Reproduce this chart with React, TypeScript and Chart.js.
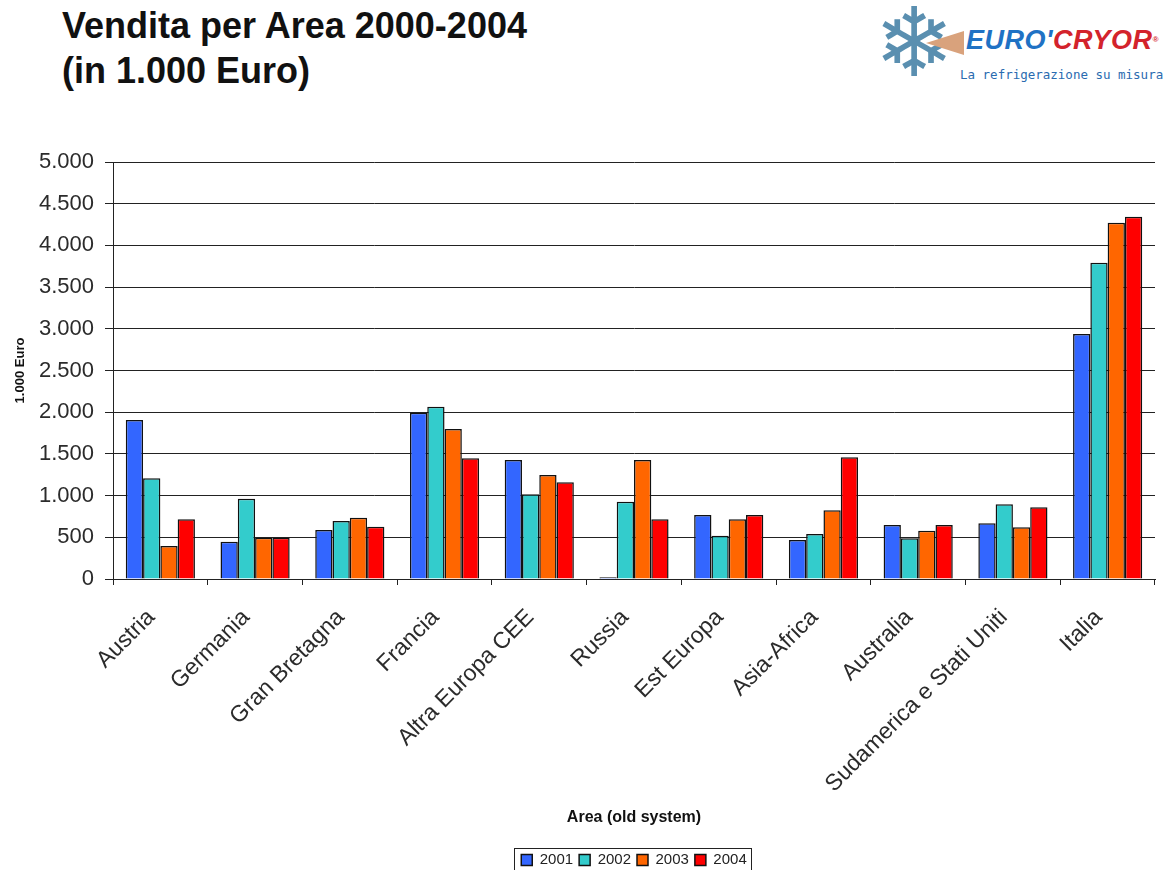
import React, { useEffect, useRef } from "react";
import { Chart, registerables } from "chart.js";

Chart.register(...registerables);

const categories = [
  "Austria",
  "Germania",
  "Gran Bretagna",
  "Francia",
  "Altra Europa CEE",
  "Russia",
  "Est Europa",
  "Asia-Africa",
  "Australia",
  "Sudamerica e Stati Uniti",
  "Italia",
];
const years = ["2001", "2002", "2003", "2004"];
const sales2001 = [1905, 447, 588, 1994, 1427, 20, 767, 468, 647, 668, 2938];
const sales2002 = [1207, 963, 695, 2066, 1015, 927, 519, 540, 488, 896, 3793];
const sales2003 = [396, 495, 735, 1799, 1247, 1427, 716, 824, 579, 620, 4272];
const sales2004 = [716, 495, 627, 1447, 1159, 716, 767, 1459, 647, 860, 4344];
const yMin = 0;
const yMax = 5000;
const yStep = 500;

const seriesColors = ["#3366FF", "#33CCCC", "#FF6600", "#FF0000"];
const FONT = "'Liberation Sans', Arial, Helvetica, sans-serif";

const fmt = (v: number) => String(Math.round(v)).replace(/\B(?=(\d{3})+(?!\d))/g, ".");

const legendBorder = {
  id: "legendBorder",
  afterDraw(chart: any) {
    const lg = chart.legend;
    if (!lg || !lg.legendHitBoxes || !lg.legendHitBoxes.length) return;
    const hb = lg.legendHitBoxes;
    const left = Math.min(...hb.map((h: any) => h.left)) - 7;
    const right = Math.max(...hb.map((h: any) => h.left + h.width)) + 5;
    const top = Math.min(...hb.map((h: any) => h.top)) - 5;
    const bottom = Math.max(...hb.map((h: any) => h.top + h.height)) + 5;
    const ctx = chart.ctx;
    ctx.save();
    ctx.strokeStyle = "#222";
    ctx.lineWidth = 1;
    ctx.strokeRect(Math.round(left) + 0.5, Math.round(top) + 0.5, Math.round(right - left), Math.round(bottom - top));
    ctx.restore();
  },
};

function SalesChart() {
  const ref = useRef<HTMLCanvasElement | null>(null);
  useEffect(() => {
    if (!ref.current) return;
    const values = [sales2001, sales2002, sales2003, sales2004];
    const chart = new Chart(ref.current, {
      type: "bar",
      data: {
        labels: categories,
        datasets: years.map((y, i) => ({
          label: y,
          data: values[i],
          backgroundColor: seriesColors[i],
          borderColor: "#111",
          borderWidth: 1.5,
          categoryPercentage: 0.73,
          barPercentage: 1,
        })),
      },
      options: {
        responsive: false,
        animation: false,
        layout: { padding: { top: 32, bottom: 2.4, left: 0, right: 11 } },
        plugins: {
          tooltip: { enabled: false },
          legend: {
            position: "bottom",
            fullSize: false,
            labels: {
              boxWidth: 11,
              boxHeight: 11,
              padding: 6,
              color: "#222",
              font: { family: FONT, size: 15 },
            },
          },
        },
        scales: {
          x: {
            grid: {
              display: true,
              drawOnChartArea: false,
              drawTicks: true,
              tickLength: 6,
              color: "#222",
              offset: true,
            },
            border: { display: true, color: "#222", width: 1 },
            ticks: {
              autoSkip: false,
              maxRotation: 45,
              minRotation: 45,
              padding: 19,
              labelOffset: -9,
              color: "#2b2b2b",
              font: { family: FONT, size: 23 },
            },
            title: {
              display: true,
              text: "Area (old system)",
              color: "#111",
              font: { family: FONT, size: 16, weight: "bold" },
              padding: { top: 4, bottom: 19 },
            },
            afterFit: (scale: any) => {
              scale.height = 267.6;
            },
          },
          y: {
            min: yMin,
            max: yMax,
            grid: {
              color: "#222",
              lineWidth: 1,
              drawTicks: true,
              tickLength: 8,
            },
            border: { display: true, color: "#222", width: 1 },
            ticks: {
              stepSize: yStep,
              padding: 11,
              color: "#2b2b2b",
              font: { family: FONT, size: 22 },
              callback: (v: any) => fmt(Number(v)),
            },
            title: {
              display: true,
              text: "1.000 Euro",
              color: "#111",
              font: { family: FONT, size: 13, weight: "bold" },
              padding: { top: 13, bottom: 4 },
            },
            afterFit: (scale: any) => {
              scale.width = 113;
            },
          },
        },
      },
      plugins: [legendBorder],
    } as any);
    return () => chart.destroy();
  }, []);
  return (
    <canvas
      ref={ref}
      width={1166}
      height={750}
      style={{ position: "absolute", left: 0, top: 130, width: 1166, height: 750 }}
    />
  );
}

function Logo() {
  return (
    <div style={{ position: "absolute", left: 872, top: 0, width: 294, height: 100 }}>
      <div
        style={{
          position: "absolute",
          left: 2,
          top: -12,
          fontFamily: "'DejaVu Sans', sans-serif",
          fontSize: 96,
          lineHeight: "110px",
          color: "#5a8fb0",
        }}
      >
        ❄
      </div>
      <div
        style={{
          position: "absolute",
          left: 54,
          top: 31,
          width: 0,
          height: 0,
          borderTop: "12px solid transparent",
          borderBottom: "12px solid transparent",
          borderRight: "38px solid #d9a27c",
        }}
      />
      <div
        style={{
          position: "absolute",
          left: 94,
          top: 24,
          fontFamily: FONT,
          fontWeight: 900,
          fontStyle: "italic",
          fontSize: 27,
          lineHeight: "32px",
          letterSpacing: 0.5,
          whiteSpace: "nowrap",
        }}
      >
        <span style={{ color: "#1f72c4" }}>EURO'</span>
        <span style={{ color: "#d3232c" }}>CRYOR</span>
        <span style={{ color: "#d3232c", fontSize: 8, verticalAlign: "top" }}>®</span>
      </div>
      <div
        style={{
          position: "absolute",
          left: 88,
          top: 67,
          fontFamily: "'DejaVu Sans Mono', monospace",
          fontSize: 12.5,
          lineHeight: "16px",
          color: "#2a6bb0",
          whiteSpace: "nowrap",
        }}
      >
        La refrigerazione su misura
      </div>
    </div>
  );
}

export default function App() {
  return (
    <div
      style={{
        position: "absolute",
        left: 0,
        top: 0,
        width: 1166,
        height: 870,
        overflow: "hidden",
        background: "#fff",
      }}
    >
      <div
        style={{
          position: "absolute",
          left: 62,
          top: 3,
          fontFamily: FONT,
          fontWeight: "bold",
          fontSize: 36,
          lineHeight: "45px",
          color: "#111",
          whiteSpace: "nowrap",
        }}
      >
        Vendita per Area 2000-2004
        <br />
        (in 1.000 Euro)
      </div>
      <Logo />
      <SalesChart />
    </div>
  );
}
